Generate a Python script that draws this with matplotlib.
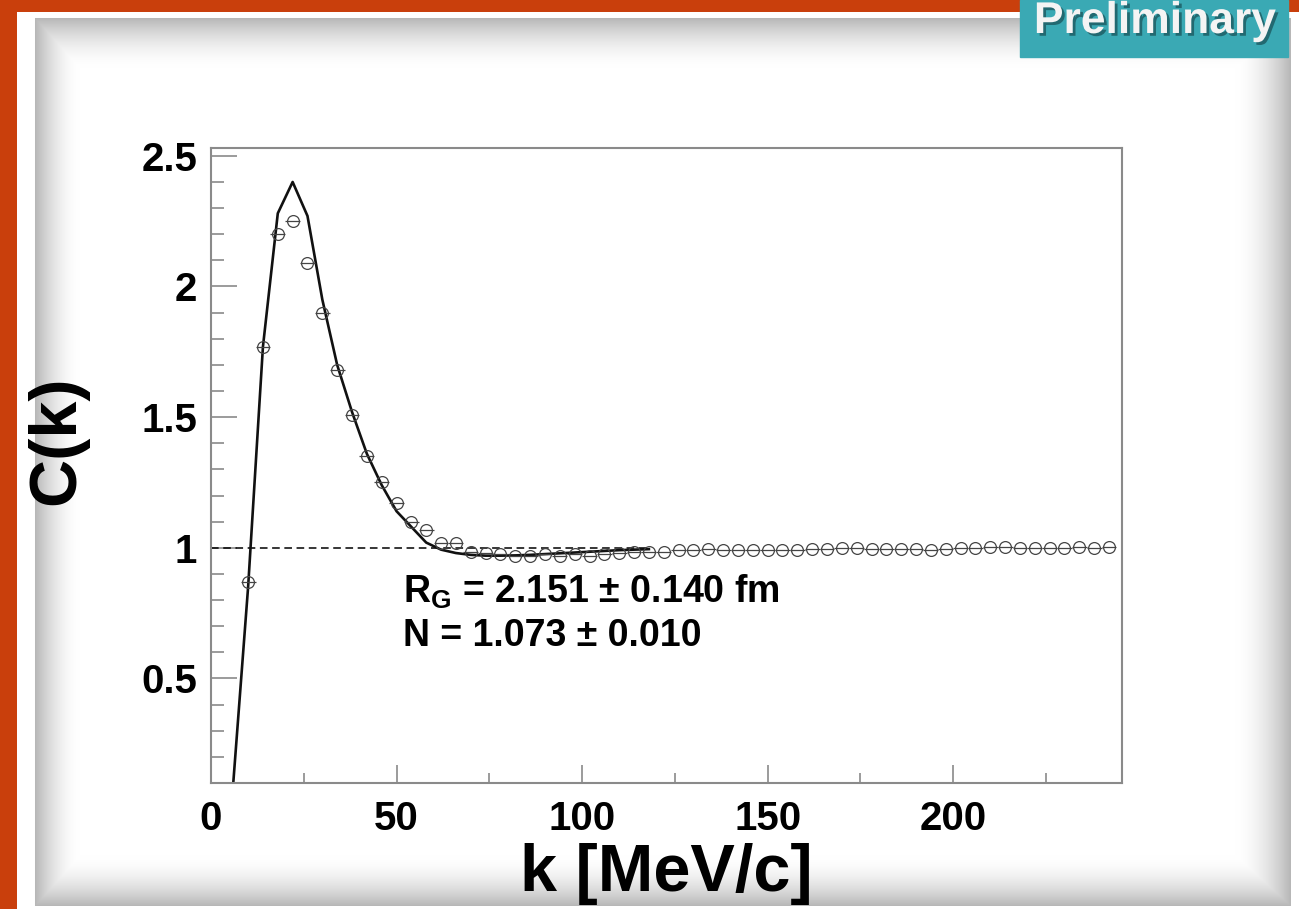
import numpy as np
import matplotlib
matplotlib.use('Agg')
from matplotlib import pyplot as plt
from matplotlib.patches import Rectangle
import matplotlib.patheffects as pe

# measured correlation function (bin centres, MeV/c)
k_data = np.arange(10, 243, 4)
c_data = [0.87, 1.77, 2.20, 2.25, 2.09, 1.90, 1.68, 1.51, 1.35, 1.25,
          1.17, 1.10, 1.07, 1.02, 1.02, 0.985, 0.98, 0.975, 0.97, 0.97,
          0.975, 0.97, 0.975, 0.97, 0.975, 0.98, 0.985, 0.985, 0.985, 0.99,
          0.99, 0.995, 0.99, 0.99, 0.99, 0.99, 0.99, 0.99, 0.995, 0.995,
          1.0, 1.0, 0.995, 0.995, 0.995, 0.995, 0.99, 0.995, 1.0, 1.0,
          1.005, 1.005, 1.0, 1.0, 1.0, 1.0, 1.005, 1.0, 1.005]

# fit curve
k_fit = np.arange(2, 119, 4)
c_fit = [-3.0, 0.10, 0.85, 1.77, 2.28, 2.40, 2.27, 1.95, 1.70, 1.52,
         1.36, 1.24, 1.14, 1.08, 1.02, 0.993, 0.98, 0.973, 0.970, 0.970,
         0.971, 0.973, 0.976, 0.979, 0.982, 0.985, 0.988, 0.991, 0.993, 0.995]

xticks = [0, 50, 100, 150, 200]
xticklabels = ['0', '50', '100', '150', '200']
yticks = [0.5, 1, 1.5, 2, 2.5]
yticklabels = ['0.5', '1', '1.5', '2', '2.5']

plt.rcParams['font.family'] = ['Liberation Sans', 'DejaVu Sans']
plt.rcParams['font.weight'] = 'bold'
plt.rcParams['mathtext.fontset'] = 'custom'
plt.rcParams['mathtext.rm'] = 'Liberation Sans:bold'
plt.rcParams['mathtext.it'] = 'Liberation Sans:bold'

W, H = 1299, 909
fig = plt.figure(figsize=(W / 100, H / 100), dpi=100)

# slide background: orange border and torn paper with grey shadow
bg = np.ones((H, W, 3))
yy, xx = np.mgrid[0:H, 0:W]
pl, pt, pr, pb = 35, 18, 1290, 905
inside = (xx >= pl) & (xx <= pr) & (yy >= pt) & (yy <= pb)
dark = np.zeros((H, W))
for d, w in [(xx - pl, 45.0), (pr - xx, 55.0), (yy - pt, 50.0), (pb - yy, 50.0)]:
    dark = np.maximum(dark, 0.28 * np.clip(1 - d / w, 0, 1) ** 1.8)
for c in range(3):
    bg[..., c] = np.where(inside, 1 - dark, 1.0)
orange = np.array([0.79, 0.25, 0.05])
bg[:, :17] = orange
bg[:12, :] = orange
bax = fig.add_axes([0, 0, 1, 1])
bax.imshow(bg, aspect='auto', interpolation='bilinear')
bax.set_axis_off()

# Preliminary tag
fig.patches.append(Rectangle((1020 / W, 1 - 57 / H), 268 / W, 57 / H,
                             transform=fig.transFigure, color='#3aa9b4', zorder=5))
fig.text(1155 / W, 1 - 33 / H, 'Preliminary', color='#f4f4f4', fontsize=32,
         fontweight='bold', ha='center', va='baseline', zorder=6,
         path_effects=[pe.withSimplePatchShadow(offset=(2, -2), shadow_rgbFace='#1c5a60', alpha=0.8)])

ax = fig.add_axes([211 / W, 1 - 783 / H, 911 / W, 635 / H])
ax.set_xlim(0, 245.5)
ax.set_ylim(0.1, 2.53)

ax.plot([0, 118], [1, 1], color='black', linestyle=(0, (5, 3)), linewidth=1.1)
ax.plot(k_fit, c_fit, color='#111111', linewidth=1.9)
ax.errorbar(k_data, c_data, xerr=2, fmt='o', ms=8.5, mfc='none', mec='#444444',
            mew=0.9, ecolor='#444444', elinewidth=0.9, capsize=0)

ax.text(51.8, 0.79, r'$\mathrm{R_G}$ = 2.151 ± 0.140 fm', fontsize=27,
        fontweight='bold', va='baseline')
ax.text(51.8, 0.625, 'N = 1.073 ± 0.010', fontsize=27, fontweight='bold',
        va='baseline')

for s in ax.spines.values():
    s.set_color('#8a8a8a')
    s.set_linewidth(1.5)
ax.set_xticks(xticks)
ax.set_xticklabels(xticklabels)
ax.set_yticks(yticks)
ax.set_yticklabels(yticklabels)
ax.set_xticks([25, 75, 125, 175, 225], minor=True)
ax.set_yticks(np.arange(0.2, 2.51, 0.1), minor=True)
ax.tick_params(axis='both', which='both', direction='in', color='#8a8a8a',
               width=1.2, labelsize=29, top=False, right=False)
ax.tick_params(axis='x', which='major', length=13, pad=12)
ax.tick_params(axis='x', which='minor', length=7)
ax.tick_params(axis='y', which='major', length=19, pad=10)
ax.tick_params(axis='y', which='minor', length=9)

ax.set_xlabel('k [MeV/c]', fontsize=48, fontweight='bold')
ax.set_ylabel('C(k)', fontsize=48, fontweight='bold')
ax.xaxis.set_label_coords(0.5, -0.095)
ax.yaxis.set_label_coords(-0.135, 0.54)

fig.savefig('out.png', dpi=100)
